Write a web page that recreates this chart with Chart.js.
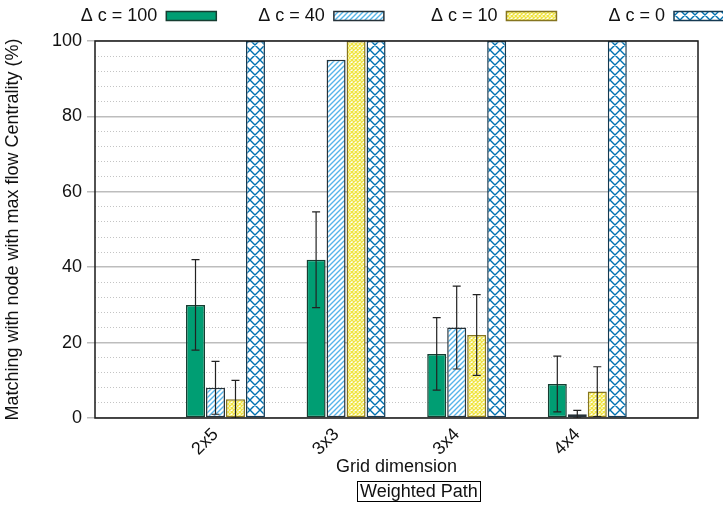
<!DOCTYPE html>
<html>
<head>
<meta charset="utf-8">
<script src="https://cdn.jsdelivr.net/npm/chart.js@4.4.0/dist/chart.umd.min.js"></script>
<style>
  html, body { margin: 0; padding: 0; overflow: hidden; background: #fff; }
  #wrap { position: relative; width: 731px; height: 506px; }
  #chart { position: absolute; left: 0; top: 0; }
  #caption {
    position: absolute; left: 357px; top: 481px;
    border: 1px solid #000; padding: 0 2px;
    font: 18px "Liberation Sans", Arial, sans-serif; line-height: 19px;
    color: #111; white-space: nowrap;
  }
</style>
</head>
<body>
<div id="wrap">
  <canvas id="chart" width="731" height="506"></canvas>
  <div id="caption">Weighted Path</div>
</div>
<script>
const categories = ['2x5', '3x3', '3x4', '4x4'];
const seriesLabels = ['Δ c = 100', 'Δ c = 40', 'Δ c = 10', 'Δ c = 0'];

const dc100 = [30, 42, 17, 9];
const dc100Err = [12, 12.7, 9.6, 7.4];
const dc40 = [8, 95, 24, 1];
const dc40Err = [7, 0, 11, 1];
const dc10 = [5, 100, 22, 7];
const dc10Err = [5, 0, 10.7, 6.6];
const dc0 = [100, 100, 100, 100];
const dc0Err = [0, 0, 0, 0];

// gnuplot draws the clusters a little right of the tic
const barShift = 0.082;
// extra spaces so the key columns line up like the original
const legendPad = [0, 7, 8, 9];

Chart.defaults.font.family = '"Liberation Sans", Arial, sans-serif';
Chart.defaults.font.size = 18;
Chart.defaults.color = '#111';

const canvas = document.getElementById('chart');
const ctx = canvas.getContext('2d');

const makePattern = (size, stroke, width, dirs) => {
    const c = document.createElement('canvas');
    c.width = size;
    c.height = size;
    const g = c.getContext('2d');
    g.fillStyle = '#fff';
    g.fillRect(0, 0, size, size);
    g.strokeStyle = stroke;
    g.lineWidth = width;
    g.beginPath();
    if (dirs.includes('/')) {
        g.moveTo(-1, size + 1); g.lineTo(size + 1, -1);
        g.moveTo(-size - 1, size + 1); g.lineTo(1, -1);
        g.moveTo(size - 1, size + 1); g.lineTo(2 * size + 1, -1);
    }
    if (dirs.includes('\\')) {
        g.moveTo(-1, -1); g.lineTo(size + 1, size + 1);
        g.moveTo(-size - 1, -1); g.lineTo(1, size + 1);
        g.moveTo(size - 1, -1); g.lineTo(2 * size + 1, size + 1);
    }
    g.stroke();
    return ctx.createPattern(c, 'repeat');
};

const hatchBlue = makePattern(5, '#56b4e9', 1.4, '/');
const crossYellow = makePattern(4, '#f0e442', 1.4, '/\\');
const crossBlue = makePattern(10, '#0072b2', 1.4, '/\\');

const toPoints = (vals) => vals.map((v, i) => ({ x: i, y: v }));

const errorBars = {
    id: 'errorBars',
    afterDatasetsDraw(chart) {
        const c = chart.ctx;
        const y = chart.scales.y;
        const area = chart.chartArea;
        c.save();
        c.beginPath();
        c.rect(area.left, area.top, area.right - area.left, area.bottom - area.top);
        c.clip();
        c.strokeStyle = '#222';
        c.lineWidth = 1.2;
        chart.data.datasets.forEach((ds, di) => {
            const meta = chart.getDatasetMeta(di);
            meta.data.forEach((bar, i) => {
                const e = ds.errors[i];
                if (!e) return;
                const v = ds.data[i].y;
                const top = y.getPixelForValue(v + e);
                const bot = y.getPixelForValue(v - e);
                c.beginPath();
                c.moveTo(bar.x, top); c.lineTo(bar.x, bot);
                c.moveTo(bar.x - 4, top); c.lineTo(bar.x + 4, top);
                c.moveTo(bar.x - 4, bot); c.lineTo(bar.x + 4, bot);
                c.stroke();
            });
        });
        c.restore();
        // plot frame
        c.save();
        c.strokeStyle = '#1a1a1a';
        c.lineWidth = 1.5;
        c.strokeRect(area.left, area.top, area.right - area.left, area.bottom - area.top);
        c.restore();
    }
};

const legendHeight = {
    id: 'legendHeight',
    beforeInit(chart) {
        const fit = chart.legend.fit;
        chart.legend.fit = function () {
            fit.call(this);
            this.height = 41;
        };
    }
};

const barStyle = {
    borderWidth: 1.5,
    borderSkipped: false,
    categoryPercentage: 0.663,
    barPercentage: 0.95,
    xAxisID: 'xb',
    yAxisID: 'y'
};

new Chart(ctx, {
    type: 'bar',
    data: {
        datasets: [
            { ...barStyle, label: seriesLabels[0], data: toPoints(dc100), errors: dc100Err, backgroundColor: '#009e73', borderColor: '#163d31' },
            { ...barStyle, label: seriesLabels[1], data: toPoints(dc40), errors: dc40Err, backgroundColor: hatchBlue, borderColor: '#26323a' },
            { ...barStyle, label: seriesLabels[2], data: toPoints(dc10), errors: dc10Err, backgroundColor: crossYellow, borderColor: '#857520' },
            { ...barStyle, label: seriesLabels[3], data: toPoints(dc0), errors: dc0Err, backgroundColor: crossBlue, borderColor: '#153a52' }
        ]
    },
    options: {
        responsive: false,
        animation: false,
        devicePixelRatio: 1,
        layout: { padding: 0 },
        plugins: {
            legend: {
                position: 'top',
                align: 'start',
                rtl: true,
                reverse: true,
                textDirection: 'ltr',
                labels: {
                    boxWidth: 50,
                    boxHeight: 9,
                    padding: 7,
                    font: { size: 18 },
                    generateLabels(chart) {
                        const items = Chart.defaults.plugins.legend.labels.generateLabels(chart);
                        items.forEach(it => { it.text = ' '.repeat(legendPad[it.datasetIndex]) + it.text; });
                        return items;
                    }
                }
            },
            tooltip: { enabled: false }
        },
        scales: {
            x: {
                type: 'linear',
                position: 'bottom',
                min: -1,
                max: 4,
                offset: false,
                afterBuildTicks: (s) => { s.ticks = categories.map((c, i) => ({ value: i })); },
                afterFit: (s) => { s.height = 88; },
                grid: { display: false, drawTicks: false, offset: false },
                border: { display: false },
                ticks: {
                    callback: (v) => categories[v],
                    autoSkip: false,
                    minRotation: 45,
                    maxRotation: 45,
                    padding: 6
                },
                title: { display: true, text: 'Grid dimension', padding: { top: 0, bottom: 28 } }
            },
            xb: {
                type: 'linear',
                display: false,
                offset: false,
                min: -1 - barShift,
                max: 4 - barShift,
                grid: { offset: false },
                afterBuildTicks: (s) => { s.ticks = categories.map((c, i) => ({ value: i })); }
            },
            y: {
                position: 'left',
                min: 0,
                max: 100,
                afterFit: (s) => { s.width = 95; },
                ticks: { stepSize: 20, padding: 5 },
                grid: { color: '#bdbdbd', lineWidth: 1.5, tickLength: 8, tickColor: '#bdbdbd' },
                border: { display: false },
                title: { display: true, text: 'Matching with node with max flow Centrality (%)', padding: { top: 2, bottom: 0 } }
            },
            y2: {
                position: 'right',
                min: 0,
                max: 100,
                afterFit: (s) => { s.width = 33; },
                ticks: { display: false, stepSize: 4 },
                grid: {
                    color: (c) => (c.tick && c.tick.value % 20 === 0) ? 'rgba(0,0,0,0)' : '#c4c4c4',
                    lineWidth: 1,
                    drawTicks: false
                },
                border: { display: false, dash: [1, 2] }
            }
        }
    },
    plugins: [errorBars, legendHeight]
});
</script>
</body>
</html>
